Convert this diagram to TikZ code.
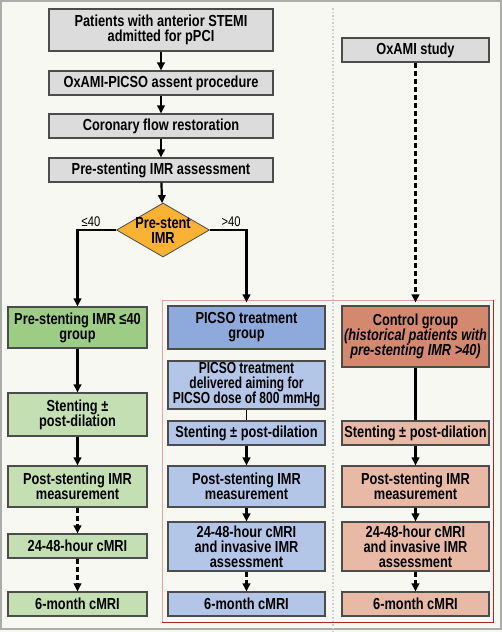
\documentclass[tikz,border=0pt]{standalone}
\usepackage{fontspec}
\setmainfont{Liberation Sans}[FakeStretch=0.8]
\usetikzlibrary{arrows.meta,shapes.geometric}

\definecolor{paper}{HTML}{F8F8F2}
\definecolor{boxgray}{HTML}{DCDCDC}
\definecolor{imrorange}{HTML}{F9B233}
\definecolor{lowgreen}{HTML}{9DCC84}
\definecolor{lowgreenlt}{HTML}{C4E0B2}
\definecolor{picsoblue}{HTML}{8EA9DB}
\definecolor{picsobluelt}{HTML}{B4C6E7}
\definecolor{ctrlred}{HTML}{D4896F}
\definecolor{ctrlredlt}{HTML}{E8B9A5}
\definecolor{framered}{HTML}{E3A3A3}
\definecolor{framereddk}{HTML}{A82828}

\tikzset{
  stage/.style={draw=black!70, line width=1.1pt, align=center, inner sep=0.5pt,
    font=\bfseries\fontsize{16}{15}\selectfont},
  greystage/.style={stage, fill=boxgray, minimum width=224pt},
  lowstage/.style={stage, fill=lowgreenlt, minimum width=139pt},
  picsostage/.style={stage, fill=picsobluelt, minimum width=157pt},
  ctrlstage/.style={stage, fill=ctrlredlt, minimum width=147pt},
  flow/.style={line width=2.2pt, -{Triangle[length=8pt,width=7.5pt]}},
  dflow/.style={flow, dash pattern=on 5pt off 3pt},
  cut/.style={font=\fontsize{14}{14}\selectfont},
}

\begin{document}
\begin{tikzpicture}[x=1pt, y=-1pt]
  % Page and frame
  \useasboundingbox (0,0) rectangle (502,632);
  \fill[paper] (0,0) rectangle (502,632);
  \draw[gray!65, line width=2pt] (1,1) rectangle (501,629);
  \draw[gray!40, line width=1.5pt, dotted] (333,8) -- (333,632);

  % Boxed trial arm
  \draw[framered, line width=1pt] (162,622) -- (162,300) -- (493,300);
  \draw[framereddk, line width=1pt] (493,300) -- (493,622) -- (162,622);

  % Common pathway
  \node[greystage, minimum height=42pt] (pat) at (161,30) {Patients with anterior STEMI\\admitted for pPCI};
  \node[greystage, minimum height=24pt] (assent) at (161,83) {OxAMI-PICSO assent procedure};
  \node[greystage, minimum height=24pt] (flowrest) at (161,126) {Coronary flow restoration};
  \node[greystage, minimum height=24pt] (preimr) at (161,170) {Pre-stenting IMR assessment};
  \node[diamond, draw=black!70, line width=0.8pt, fill=imrorange, minimum width=93pt, minimum height=54pt,
    shape aspect=1.72, inner sep=-3pt, align=center, font=\bfseries\fontsize{16}{15}\selectfont]
    (imr) at (163,230) {Pre-stent\\IMR};
  \node[cut] (le) at (91,222) {≤40};
  \node[cut] (gt) at (231,222) {>40};

  % Historical controls
  \node[stage, fill=boxgray, minimum width=147pt, minimum height=24pt] (study) at (415.5,50) {OxAMI study};

  % IMR <= 40 arm
  \node[stage, fill=lowgreen, minimum width=139pt, minimum height=41pt] (low1) at (77.5,327.5) {Pre-stenting IMR ≤40\\group};
  \node[lowstage, minimum height=43pt] (low2) at (77.5,414.5) {Stenting ±\\post-dilation};
  \node[lowstage, minimum height=41pt] (low3) at (77.5,486.5) {Post-stenting IMR\\measurement};
  \node[lowstage, minimum height=24pt] (low4) at (77.5,546) {24-48-hour cMRI};
  \node[lowstage, minimum height=24pt] (low5) at (77.5,604) {6-month cMRI};

  % PICSO arm
  \node[stage, fill=picsoblue, minimum width=157pt, minimum height=43pt] (pic1) at (246.5,327.5) {PICSO treatment\\group};
  \node[picsostage, minimum height=48pt] (pic2) at (246.5,385)
    {\addfontfeature{FakeStretch=0.75}PICSO treatment\\\addfontfeature{FakeStretch=0.75}delivered aiming for\\\addfontfeature{FakeStretch=0.75}PICSO dose of 800 mmHg};
  \node[picsostage, minimum height=24pt] (pic3) at (246.5,433) {Stenting ± post-dilation};
  \node[picsostage, minimum height=41pt] (pic4) at (246.5,486.5) {Post-stenting IMR\\measurement};
  \node[picsostage, minimum height=49pt] (pic5) at (246.5,546.5) {24-48-hour cMRI\\and invasive IMR\\assessment};
  \node[picsostage, minimum height=24pt] (pic6) at (246.5,604) {6-month cMRI};

  % Control arm
  \node[stage, fill=ctrlred, minimum width=147pt, minimum height=61pt] (ctrl1) at (415.5,336.5)
    {Control group\\\itshape(historical patients with\\\itshape pre-stenting IMR >40)};
  \node[ctrlstage, minimum height=24pt] (ctrl2) at (415.5,433) {Stenting ± post-dilation};
  \node[ctrlstage, minimum height=41pt] (ctrl3) at (415.5,486.5) {Post-stenting IMR\\measurement};
  \node[ctrlstage, minimum height=49pt] (ctrl4) at (415.5,546.5) {24-48-hour cMRI\\and invasive IMR\\assessment};
  \node[ctrlstage, minimum height=24pt] (ctrl5) at (415.5,604) {6-month cMRI};

  % Connectors
  \draw[flow] (pat) -- (assent);
  \draw[flow] (assent) -- (flowrest);
  \draw[flow] (flowrest) -- (preimr);
  \draw[flow] (preimr) -- (imr);
  \draw[flow] (imr.west) -| (low1.north);
  \draw[flow, shorten >=3pt] (imr.east) -| (pic1.north);
  \draw[dflow, shorten >=3pt] (study) -- (ctrl1);

  \draw[flow] (low1) -- (low2);
  \draw[flow] (low2) -- (low3);
  \draw[dflow] (low3) -- (low4);
  \draw[dflow] (low4) -- (low5);

  \draw[line width=1.3pt] (pic2) -- (pic3);
  \draw[flow] (pic3) -- (pic4);
  \draw[flow] (pic4) -- (pic5);
  \draw[dflow] (pic5) -- (pic6);

  \draw[line width=2.2pt] (ctrl1) -- (ctrl2);
  \draw[flow] (ctrl2) -- (ctrl3);
  \draw[flow] (ctrl3) -- (ctrl4);
  \draw[dflow] (ctrl4) -- (ctrl5);
\end{tikzpicture}
\end{document}
